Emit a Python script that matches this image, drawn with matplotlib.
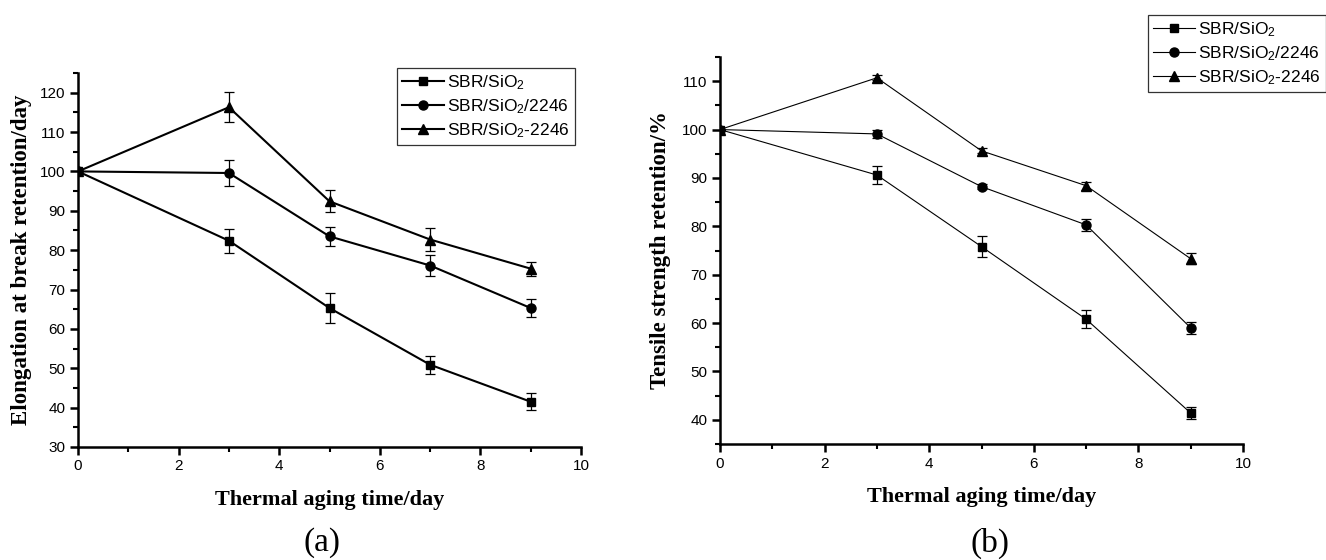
import matplotlib
matplotlib.use("Agg")
import matplotlib.pyplot as plt
from matplotlib.ticker import MultipleLocator

plt.rcParams['font.family'] = ['Liberation Sans', 'DejaVu Sans']
plt.rcParams['mathtext.default'] = 'regular'

# Данные
days = [0, 3, 5, 7, 9]
labels = ["SBR/SiO$_2$", "SBR/SiO$_2$/2246", "SBR/SiO$_2$-2246"]
markers = ['s', 'o', '^']
msizes = [5.5, 6.5, 7]

# (a) удлинение при разрыве
elong_sio2 = [100, 82.4, 65.3, 50.9, 41.5]
elong_sio2_err = [0, 3.1, 3.9, 2.3, 2.1]
elong_mix = [100, 99.6, 83.5, 76.1, 65.3]
elong_mix_err = [0, 3.4, 2.5, 2.6, 2.3]
elong_graft = [100, 116.3, 92.4, 82.7, 75.3]
elong_graft_err = [0, 3.8, 2.8, 2.9, 1.8]

# (b) прочность при растяжении
tens_sio2 = [100, 90.6, 75.8, 60.8, 41.4]
tens_sio2_err = [0, 1.9, 2.2, 1.9, 1.3]
tens_mix = [100, 99.1, 88.2, 80.3, 59.0]
tens_mix_err = [0, 0.8, 0.5, 1.2, 1.3]
tens_graft = [100, 110.7, 95.6, 88.4, 73.3]
tens_graft_err = [0, 0.5, 0.5, 0.8, 1.1]

W, H = 1326, 560
fig = plt.figure(figsize=(W / 100, H / 100), dpi=100)
ax1 = fig.add_axes([78 / W, 1 - 447 / H, (581 - 78) / W, (447 - 73) / H])
ax2 = fig.add_axes([720 / W, 1 - 444 / H, (1243 - 720) / W, (444 - 57) / H])

xlab_font = dict(family='Liberation Serif', weight='bold', size=16)
ylab_font = dict(family='Liberation Serif', weight='bold', size=16.5)


def draw(ax, series, errs, lw, ylim, ylabel, ypad, leg_pos):
    handles = []
    for y, e, m, ms, lab in zip(series, errs, markers, msizes, labels):
        ax.errorbar(days, y, yerr=e, fmt='none', ecolor='black', elinewidth=0.9,
                    capsize=3.5, capthick=0.9)
        h, = ax.plot(days, y, color='black', lw=lw, marker=m, markersize=ms, label=lab)
        handles.append(h)
    ax.set_xlim(0, 10)
    ax.set_ylim(*ylim)
    ax.xaxis.set_major_locator(MultipleLocator(2))
    ax.xaxis.set_minor_locator(MultipleLocator(1))
    ax.yaxis.set_major_locator(MultipleLocator(10))
    ax.yaxis.set_minor_locator(MultipleLocator(5))
    ax.spines['top'].set_visible(False)
    ax.spines['right'].set_visible(False)
    for s in ['left', 'bottom']:
        ax.spines[s].set_linewidth(1.8)
    ax.tick_params(which='major', direction='out', length=6, width=1.8, labelsize=11, pad=3)
    ax.tick_params(which='minor', direction='out', length=3.5, width=1.5)
    ax.set_xlabel("Thermal aging time/day", fontdict=xlab_font, labelpad=12)
    ax.set_ylabel(ylabel, fontdict=ylab_font, labelpad=ypad)
    leg = ax.legend(handles=handles, loc='upper left', bbox_to_anchor=leg_pos,
                    bbox_transform=fig.transFigure, borderaxespad=0, fontsize=12.5,
                    handlelength=2.4, handletextpad=0.2, labelspacing=0.3,
                    borderpad=0.3, fancybox=False, framealpha=1, edgecolor='#333333')
    leg.get_frame().set_linewidth(0.9)
    return ax


draw(ax1, [elong_sio2, elong_mix, elong_graft],
     [elong_sio2_err, elong_mix_err, elong_graft_err], 1.5, (30, 125),
     "Elongation at break retention/day", 6, (397 / W, 1 - 68 / H))
draw(ax2, [tens_sio2, tens_mix, tens_graft],
     [tens_sio2_err, tens_mix_err, tens_graft_err], 0.8, (35, 115),
     "Tensile strength retention/%", 8, (1148 / W, 1 - 15 / H))

fig.text(322 / W, 1 - 543 / H, "(a)", family='Liberation Serif', size=24, ha='center', va='center')
fig.text(990 / W, 1 - 543 / H, "(b)", family='Liberation Serif', size=24, ha='center', va='center')

fig.savefig("out.png", dpi=100)
